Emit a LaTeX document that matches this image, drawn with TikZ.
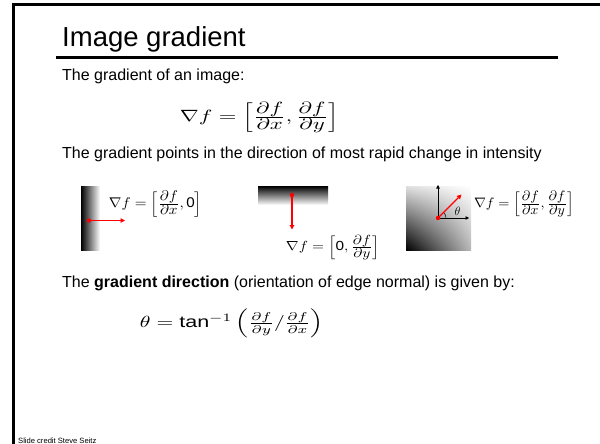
\documentclass[tikz,border=0pt]{standalone}
\usepackage{amsmath}
\usepackage{graphicx}
\usepackage[no-math]{fontspec}
\setmainfont{Liberation Sans}
\usetikzlibrary{arrows.meta,shadings}
\newcommand{\pfrac}[2]{\frac{\textstyle #1}{\textstyle #2}}
\tikzset{
  body/.style={anchor=base west, inner sep=0pt, font=\fontsize{16}{19}\selectfont},
  eqn/.style={anchor=center, inner sep=0pt},
  redarrow/.style={draw=red, line width=1.3pt, -{Triangle[length=4.5pt,width=4.5pt]}},
  axisarrow/.style={draw=black, line width=0.6pt, -{Triangle[length=3.5pt,width=3.5pt]}},
  reddot/.style={circle, fill=red, inner sep=0pt, minimum size=4.4pt},
}
\begin{document}
\begin{tikzpicture}[x=1pt,y=-1pt]
\useasboundingbox (0,0) rectangle (600,444);
% frame
\draw[line width=2.7pt, line join=miter] (600,4.8) -- (13.5,4.8) -- (13.5,446);
% title
\node[anchor=base west, inner sep=0pt, font=\fontsize{27.5}{33}\selectfont] (title) at (62,46.7) {Image gradient};
\coordinate (ulL) at (56,57.5);
\coordinate (ulR) at (558,57.5);
\draw[line width=3pt] (ulL) -- (ulR);
% text
\node[body] (t1) at (62,81) {The gradient of an image:};
\node[eqn] (eq1) at (259.5,117.5) {\resizebox*{159pt}{31pt}{$\nabla f = \left[\pfrac{\partial f}{\partial x}, \pfrac{\partial f}{\partial y}\right]$}};
\node[body] (t2) at (62,158) {The gradient points in the direction of most rapid change in intensity};
% image 1
\shade[left color=black, right color=white] (81,186) rectangle (100,250);
\node[reddot] (d1) at (89,220.5) {};
\coordinate (e1) at (125,220.5);
\draw[redarrow] (d1.center) -- (e1);
\node[eqn] (l1) at (155.5,204) {\resizebox*{93pt}{26pt}{$\nabla f = \left[\pfrac{\partial f}{\partial x}, \mbox{0}\right]$}};
% image 2
\shade[top color=black, bottom color=white] (258,186) rectangle (328,205);
\node[reddot] (d2) at (292,195) {};
\coordinate (e2) at (292,229.5);
\draw[redarrow] (d2.center) -- (e2);
\node[eqn] (l2) at (333,247.5) {\resizebox*{94pt}{25pt}{$\nabla f = \left[\mbox{0}, \pfrac{\partial f}{\partial y}\right]$}};
% image 3
\shade[lower left=black, upper right=white, upper left=black!12, lower right=black!28] (406,186) rectangle (471,250);
\coordinate (o3) at (438,218);
\coordinate (ay) at (438,185);
\coordinate (ax) at (469,218);
\draw[axisarrow] (o3) -- (ay);
\draw[axisarrow] (o3) -- (ax);
\draw[line width=0.5pt] (446,218) .. controls (446,215.88) and (445.16,213.84) .. (443.66,212.34);
\node[inner sep=0pt, font=\fontsize{12}{14}\selectfont] (th) at (457.5,211.5) {$\theta$};
\node[reddot] (d3) at (o3) {};
\coordinate (e3) at (461.5,194.5);
\draw[redarrow] (d3.center) -- (e3);
\node[eqn] (l3) at (524,204) {\resizebox*{100pt}{26pt}{$\nabla f = \left[\pfrac{\partial f}{\partial x}, \pfrac{\partial f}{\partial y}\right]$}};
% gradient direction
\node[body] (t3) at (62,287) {The \textbf{gradient direction} (orientation of edge normal) is given by:};
\node[eqn] (eq2) at (231.5,323.5) {\resizebox*{183pt}{29pt}{$\theta = \mbox{tan}^{-1}\left(\frac{\partial f}{\partial y}/\frac{\partial f}{\partial x}\right)$}};
% credit
\node[anchor=base west, inner sep=0pt, font=\fontsize{7.6}{9}\selectfont] (cr) at (18,443) {Slide credit Steve Seitz};
\end{tikzpicture}
\end{document}
